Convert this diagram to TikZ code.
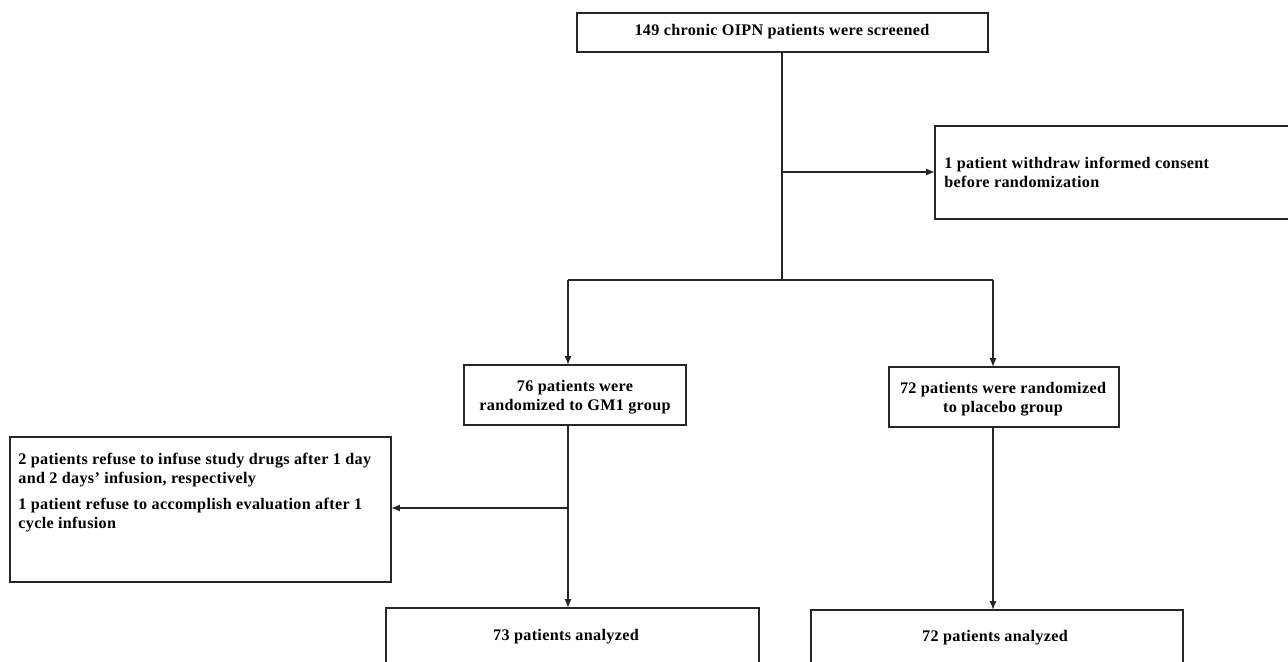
\documentclass[tikz,border=0pt]{standalone}
\usepackage{fontspec}
\setmainfont{Liberation Serif}[LetterSpace=2]
\usetikzlibrary{arrows.meta}
\begin{document}
\begin{tikzpicture}[x={(0.02cm,0)},y={(0,-0.02cm)},
  box/.style={draw=black!85,line width=0.8pt,inner sep=0pt,outer sep=0pt},
  txt/.style={font=\bfseries\fontsize{9.2}{10.8}\selectfont,inner sep=0pt,align=center},
  ltxt/.style={font=\bfseries\fontsize{9.2}{10.8}\selectfont,inner sep=0pt,align=left,anchor=north west},
  conn/.style={line width=0.9pt,draw=black!85},
  arr/.style={conn,-{Latex[length=5pt,width=4pt]}}]
\useasboundingbox (0,0) rectangle (1288,662);
\clip (0,0) rectangle (1288,662);
% boxes
\draw[box] (577,13) rectangle (988,52);
\node[txt] (screen) at (782,32) {149 chronic OIPN patients were screened};
\coordinate (screenB) at (782,52);
\draw[box] (935,126) rectangle (1300,219);
\coordinate (wdL) at (935,172);
\node[ltxt] (wd) at (944,157) {1 patient withdraw informed consent\\before randomization};
\draw[box] (464,365) rectangle (686,425);
\node[txt] (gm1) at (575,397) {76 patients were\\randomized to GM1 group};
\draw[box] (889,367) rectangle (1119,427);
\node[txt] (plac) at (1003,399) {72 patients were randomized\\to placebo group};
\draw[box] (10,437) rectangle (391,582);
\node[ltxt] (refuse) at (18,453) {2 patients refuse to infuse study drugs after 1 day\\and 2 days' infusion, respectively\\[4pt]1 patient refuse to accomplish evaluation after 1\\cycle infusion};
\draw[box] (386,608) rectangle (759,700);
\node[txt] (an1) at (566,637) {73 patients analyzed};
\draw[box] (811,610) rectangle (1183,700);
\node[txt] (an2) at (995,638) {72 patients analyzed};
% coordinates
\coordinate (split) at (782,280);
\coordinate (wdJ) at (782,172);
\coordinate (gL) at (568,280);
\coordinate (pR) at (993,280);
\coordinate (gmT) at (568,365);
\coordinate (plT) at (993,367);
\coordinate (gmB) at (568,425);
\coordinate (plB) at (993,427);
\coordinate (refJ) at (568,508);
\coordinate (refR) at (391,508);
\coordinate (an1T) at (568,608);
\coordinate (an2T) at (993,610);
% connectors
\draw[conn,line width=1.2pt] (screenB) -- (split);
\draw[arr] (wdJ) -- (wdL);
\draw[conn,line width=1.1pt] (gL) -- (pR);
\draw[arr] (gL) -- (gmT);
\draw[arr] (pR) -- (plT);
\draw[arr] (gmB) -- (an1T);
\draw[arr] (plB) -- (an2T);
\draw[arr] (refJ) -- (refR);
\end{tikzpicture}
\end{document}
